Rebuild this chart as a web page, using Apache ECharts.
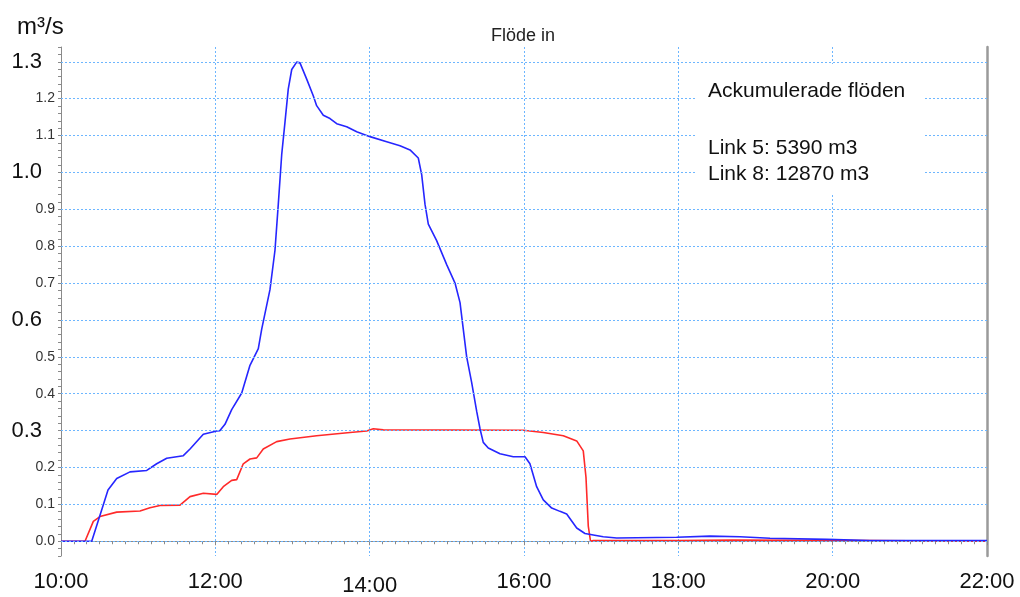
<!DOCTYPE html>
<html>
<head>
<meta charset="utf-8">
<script src="https://cdn.jsdelivr.net/npm/echarts@6/dist/echarts.min.js"></script>
<style>
html,body{margin:0;padding:0;background:#fff;}
#chart{width:1020px;height:597px;}
</style>
</head>
<body>
<div id="chart"></div>
<script>
// ---- data (time in decimal hours, flow in m3/s) ----
const timeLink8 = [10.00,10.398,10.527,10.609,10.722,10.894,11.111,11.240,11.370,11.585,11.672,11.844,12.018,12.060,12.125,12.212,12.342,12.449,12.557,12.601,12.708,12.773,12.816,12.860,12.903,12.945,12.990,13.054,13.097,13.184,13.269,13.313,13.399,13.486,13.573,13.702,13.832,14.004,14.221,14.393,14.523,14.630,14.674,14.717,14.760,14.868,14.998,15.106,15.171,15.213,15.257,15.322,15.387,15.430,15.472,15.537,15.689,15.861,16.013,16.077,16.164,16.250,16.359,16.466,16.553,16.683,16.790,16.898,17.027,17.201,17.978,18.410,18.799,19.188,19.922,20.483,21.973,22.00];
const flowLink8 = [0,0,0.085,0.139,0.170,0.188,0.192,0.210,0.225,0.232,0.250,0.290,0.299,0.300,0.317,0.357,0.402,0.477,0.522,0.575,0.682,0.789,0.914,1.048,1.137,1.226,1.279,1.299,1.297,1.253,1.208,1.181,1.155,1.146,1.132,1.124,1.110,1.097,1.083,1.072,1.061,1.039,0.994,0.914,0.860,0.815,0.750,0.700,0.647,0.575,0.500,0.430,0.352,0.305,0.268,0.253,0.237,0.229,0.229,0.210,0.148,0.112,0.090,0.081,0.074,0.036,0.021,0.017,0.012,0.009,0.011,0.014,0.012,0.008,0.005,0.002,0.002,0.002];
const timeLink5 = [10.00,10.311,10.419,10.505,10.722,11.024,11.153,11.283,11.542,11.672,11.844,12.018,12.103,12.212,12.277,12.362,12.449,12.536,12.621,12.795,12.967,13.313,13.745,13.961,14.047,14.177,15.991,16.250,16.509,16.683,16.768,16.803,16.833,16.862,16.898,18.000,18.700,20.480,20.500,22.00];
const flowLink5 = [0,0,0.054,0.067,0.079,0.082,0.091,0.097,0.098,0.121,0.130,0.127,0.148,0.165,0.167,0.210,0.223,0.226,0.250,0.270,0.277,0.286,0.295,0.299,0.305,0.302,0.301,0.295,0.286,0.272,0.245,0.174,0.041,0,0.002,0.002,0.003,0.002,0,0];

const xTickLabels = ['10:00','12:00','14:00','16:00','18:00','20:00','22:00'];
const yGridValues = [0,0.1,0.2,0.3,0.4,0.5,0.6,0.7,0.8,0.9,1.0,1.1,1.2,1.3];
const bigYLabels = ['0.3','0.6','1.0','1.3'];
const titleText = 'Flöde in';
const unitText = 'm³/s';
const boxLines = ['Ackumulerade flöden','Link 5: 5390 m3','Link 8: 12870 m3'];

const zip = (t, v) => t.map((x, i) => [x, v[i]]);
const FONT = '"Liberation Sans", Arial, sans-serif';
const gridColor = '#6db6ff';

const chart = echarts.init(document.getElementById('chart'), null, {renderer: 'canvas'});
chart.setOption({
  animation: false,
  backgroundColor: '#ffffff',
  grid: {left: 61, right: 33, top: 47, bottom: 33.5, containLabel: false},
  xAxis: [{
    type: 'value', min: 10, max: 22, interval: 2,
    axisLine: {show: true, lineStyle: {color: '#8a8a8a', width: 1}},
    axisTick: {show: true, length: 4, lineStyle: {color: '#8a8a8a'}},
    minorTick: {show: true, splitNumber: 12, length: 3, lineStyle: {color: '#8a8a8a'}},
    splitLine: {show: true, lineStyle: {color: gridColor, type: [2, 2], width: 1}},
    axisLabel: {
      margin: 15, fontFamily: FONT, fontSize: 22, color: '#111',
      formatter: v => {
        const s = xTickLabels[Math.round((v - 10) / 2)] || '';
        return s === '14:00' ? '{low|' + s + '}' : s;
      },
      rich: {low: {fontFamily: FONT, fontSize: 22, color: '#111', padding: [4, 0, 0, 0]}}
    }
  }, {
    type: 'value', min: 10, max: 22, interval: 2, position: 'top',
    axisLine: {show: true, lineStyle: {color: '#8a8a8a', width: 1}},
    axisTick: {show: false}, axisLabel: {show: false}, splitLine: {show: false}
  }],
  yAxis: [{
    type: 'value', min: -0.04, max: 1.34, interval: 0.02,
    axisLine: {show: true, lineStyle: {color: '#8a8a8a', width: 1}},
    axisTick: {show: true, length: 3, lineStyle: {color: '#8a8a8a'}},
    splitLine: {show: false},
    axisLabel: {
      margin: 6,
      formatter: v => {
        const k = Math.round(v * 100);
        if (k < 0 || k % 10 !== 0) return '';
        const s = (k / 100).toFixed(1);
        return bigYLabels.includes(s) ? '{big|' + s + '}' : '{small|' + s + '}';
      },
      rich: {
        small: {fontFamily: FONT, fontSize: 14, color: '#333'},
        big: {fontFamily: FONT, fontSize: 22, color: '#111', padding: [0, 13, 0, 0]}
      }
    }
  }, {
    type: 'value', min: -0.04, max: 1.34, position: 'right',
    axisLine: {show: true, lineStyle: {color: '#9a9a9a', width: 2.5}},
    axisTick: {show: false}, axisLabel: {show: false}, splitLine: {show: false}
  }],
  series: [{
    type: 'line', name: 'grid', data: [], silent: true, z: 1,
    markLine: {
      silent: true, symbol: ['none', 'none'], label: {show: false},
      lineStyle: {color: gridColor, type: [2, 2], width: 1},
      emphasis: {disabled: true},
      data: yGridValues.map(v => ({yAxis: v}))
    }
  }, {
    type: 'line', name: 'Link 8', data: zip(timeLink8, flowLink8),
    showSymbol: false, smooth: false, z: 3,
    lineStyle: {color: '#2626ff', width: 1.6}, itemStyle: {color: '#2626ff'}
  }, {
    type: 'line', name: 'Link 5', data: zip(timeLink5, flowLink5),
    showSymbol: false, smooth: false, z: 2,
    lineStyle: {color: '#ff2a2a', width: 1.6}, itemStyle: {color: '#ff2a2a'}
  }],
  graphic: [
    {type: 'rect', left: 697, top: 64, shape: {width: 226, height: 129}, style: {fill: '#ffffff'}, z: 10, silent: true},
    {type: 'text', x: 708, y: 91, z: 11, style: {text: boxLines[0], font: '21px ' + FONT, fill: '#111', verticalAlign: 'middle'}},
    {type: 'text', x: 708, y: 148, z: 11, style: {text: boxLines[1], font: '21px ' + FONT, fill: '#111', verticalAlign: 'middle'}},
    {type: 'text', x: 708, y: 174, z: 11, style: {text: boxLines[2], font: '21px ' + FONT, fill: '#111', verticalAlign: 'middle'}},
    {type: 'text', x: 523, y: 36, z: 11, style: {text: titleText, font: '18px ' + FONT, fill: '#222', align: 'center', verticalAlign: 'middle'}},
    {type: 'text', x: 17, y: 27, z: 11, style: {text: unitText, font: '24px ' + FONT, fill: '#111', verticalAlign: 'middle'}}
  ]
});
</script>
</body>
</html>
